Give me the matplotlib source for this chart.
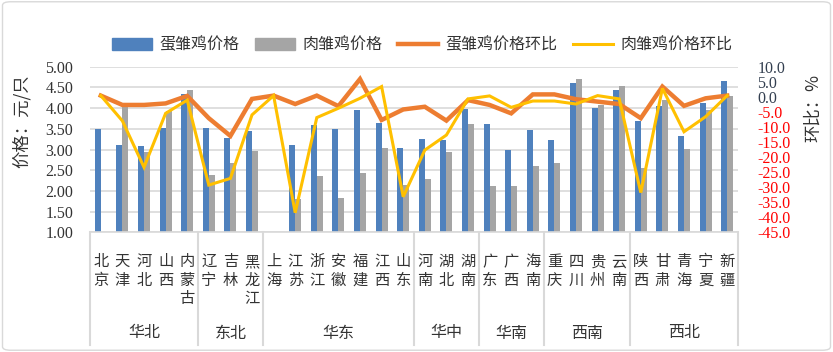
import numpy as np
import matplotlib
matplotlib.use("Agg")
import matplotlib.pyplot as plt
from matplotlib.patches import Patch, FancyBboxPatch
from matplotlib.lines import Line2D
from matplotlib.transforms import blended_transform_factory

plt.rcParams["font.family"] = ["Noto Sans CJK SC", "DejaVu Sans"]

provinces = ["北京", "天津", "河北", "山西", "内蒙古", "辽宁", "吉林", "黑龙江",
             "上海", "江苏", "浙江", "安徽", "福建", "江西", "山东",
             "河南", "湖北", "湖南", "广东", "广西", "海南",
             "重庆", "四川", "贵州", "云南", "陕西", "甘肃", "青海", "宁夏", "新疆"]
region_names = ["华北", "东北", "华东", "华中", "华南", "西南", "西北"]
region_sizes = [5, 3, 7, 3, 3, 4, 5]

nan = np.nan
egg_price = [3.50, 3.11, 3.09, 3.52, 4.34, 3.52, 3.28, 3.45, nan, 3.11,
             3.59, 3.50, 3.96, 3.64, 3.04, 3.26, 3.23, 3.98, 3.62, 2.98,
             3.47, 3.23, 4.61, 4.01, 4.44, 3.69, 4.05, 3.33, 4.12, 4.66]
meat_price = [nan, 4.04, 2.95, 3.92, 4.44, 2.39, 2.68, 2.97, nan, 1.81,
              2.37, 1.84, 2.44, 3.04, 2.15, 2.29, 2.94, 3.62, 2.13, 2.11,
              2.61, 2.68, 4.70, 4.08, 4.53, 2.56, 4.20, 3.02, 3.96, 4.29]
egg_mom = [0.4, -2.7, -2.7, -2.2, 0.3, -7.1, -13.0, -0.7, 0.4, -2.4,
           0.4, -3.1, 5.9, -7.7, -4.2, -3.3, -7.9, -1.1, -2.7, -5.5,
           0.8, 0.8, -0.8, -1.6, -2.4, -7.1, 3.4, -3.0, -0.5, 0.4]
meat_mom = [0.4, -8.0, -23.4, -5.5, -1.1, -29.3, -27.1, -6.0, 0.4, -38.5,
            -6.9, -3.8, -0.5, 3.4, -33.2, -17.7, -12.7, -0.7, 0.3, -3.5,
            -1.4, -1.4, -2.4, 0.4, -0.7, -31.8, 2.8, -11.6, -6.6, 0.4]

blue = "#4f81bd"
gray = "#a5a5a5"
orange = "#ed7d31"
yellow = "#ffc000"
grid_c = "#d9d9d9"

W, H = 833, 352
fig = plt.figure(figsize=(W / 100, H / 100), dpi=100)
left, right, top, bottom = 90, 738, 66.7, 232.3
ax = fig.add_axes([left / W, 1 - bottom / H, (right - left) / W, (bottom - top) / H])

x = np.arange(len(provinces))
bw = 0.28
ax.bar(x - bw / 2, egg_price, bw, color=blue, bottom=0, zorder=2)
ax.bar(x + bw / 2, meat_price, bw, color=gray, bottom=0, zorder=2)
ax.set_ylim(1, 5)
ax.set_xlim(-0.5, len(provinces) - 0.5)
ax.set_yticks(np.arange(1, 5.01, 0.5))
ax.set_yticklabels([f"{v:.2f}" for v in np.arange(1, 5.01, 0.5)],
                   family="Liberation Serif", fontsize=11.5, color="#333333")
ax.yaxis.grid(True, color=grid_c, lw=1.2, zorder=0)
ax.set_axisbelow(True)
for s in ["left", "right", "top"]:
    ax.spines[s].set_visible(False)
ax.spines["bottom"].set_color(grid_c)
ax.spines["bottom"].set_linewidth(1.2)
ax.tick_params(axis="y", length=0, pad=12)
ax.set_xticks(x)
ax.set_xticklabels(["\n".join(p) for p in provinces], fontsize=11,
                   color="#333333", linespacing=1.12, va="top")
ax.tick_params(axis="x", length=0, pad=15)

ax2 = ax.twinx()
ax2.plot(x, egg_mom, color=orange, lw=3.2, zorder=3, solid_joinstyle="miter")
ax2.plot(x, meat_mom, color=yellow, lw=2.2, zorder=4, solid_joinstyle="miter")
ax2.set_ylim(-45, 10)
rt = np.arange(-45, 10.01, 5)
ax2.set_yticks(rt)
ax2.set_yticklabels([f"{v:.1f}" for v in rt], family="Liberation Serif", fontsize=11.5)
for lbl, v in zip(ax2.get_yticklabels(), rt):
    lbl.set_color("red" if v < 0 else "#333f50")
for s in ["left", "right", "top", "bottom"]:
    ax2.spines[s].set_visible(False)
ax2.tick_params(axis="y", length=0, pad=14)

# region separators and names under the axis
tr = blended_transform_factory(ax.transData, ax.transAxes)
ybot = -(345 - bottom) / (bottom - top)
edges = np.concatenate([[0], np.cumsum(region_sizes)]) - 0.5
for e in edges:
    ax.plot([e, e], [0, ybot], color=grid_c, lw=1.5, transform=tr, clip_on=False)
ylab = -(333 - bottom) / (bottom - top)
for name, a, b in zip(region_names, edges[:-1], edges[1:]):
    ax.text((a + b) / 2, ylab, name, transform=tr, ha="center", va="center",
            fontsize=11.5, color="#333333")

fig.text(22 / W, 1 - 121 / H, "价格：元/只", rotation=90, ha="center", va="center",
         fontsize=12.5, color="#333333")
fig.text(813 / W, 1 - 108 / H, "环比：%", rotation=90, ha="center", va="center",
         fontsize=12.5, color="#333333")

handles = [Patch(color=blue), Patch(color=gray),
           Line2D([], [], color=orange, lw=3.2), Line2D([], [], color=yellow, lw=2.2)]
labels = ["蛋雏鸡价格", "肉雏鸡价格", "蛋雏鸡价格环比", "肉雏鸡价格环比"]
fig.legend(handles, labels, loc="center", bbox_to_anchor=(422 / W, 1 - 45 / H), ncol=4,
           frameon=False, fontsize=11.5, handlelength=2.5, handleheight=0.8,
           handletextpad=0.45, columnspacing=1.0, labelcolor="#333333")

fig.patches.append(FancyBboxPatch((0.003, 0.005), 0.994, 0.99, boxstyle="round,pad=0,rounding_size=0.01",
                                  transform=fig.transFigure, fc="none", ec=grid_c, lw=1))

fig.savefig("out.png", dpi=100)
